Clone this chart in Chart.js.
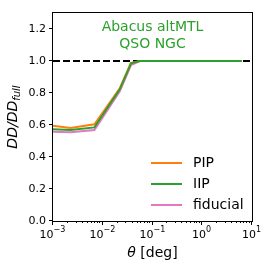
<!DOCTYPE html>
<html lang="en">
<head>
    <meta charset="UTF-8">
    <title>DD/DD_full vs theta</title>
    <script src="https://cdn.jsdelivr.net/npm/chart.js"></script>
    <style>
        body { margin: 0; background: #fff; }
    </style>
</head>
<body>
    <canvas id="ddChart" width="266" height="266"></canvas>

    <script>
        // angular separations (deg) and DD/DD_full ratios
        const theta = [0.001, 0.00224, 0.0068, 0.022, 0.037, 0.056, 0.1, 0.3, 1, 3, 6.2];
        const pip = [0.596, 0.581, 0.604, 0.830, 0.988, 1.0, 1.0, 1.0, 1.0, 1.0, 1.0];
        const iip = [0.573, 0.569, 0.585, 0.823, 0.985, 1.0, 1.0, 1.0, 1.0, 1.0, 1.0];
        const fiducial = [0.558, 0.554, 0.569, 0.810, 0.975, 1.0, 1.0, 1.0, 1.0, 1.0, 1.0];

        const refTheta = [0.001, 10];
        const refLine = [1.0, 1.0];

        const yTicks = [0.0, 0.2, 0.4, 0.6, 0.8, 1.0, 1.2];
        const xExponents = [-3, -2, -1, 0, 1];

        const seriesLabels = ['PIP', 'IIP', 'fiducial'];
        const seriesColors = ['#ff7f0e', '#2ca02c', '#e377c2'];

        function toPoints(xs, ys) {
            return xs.map((x, i) => ({ x: x, y: ys[i] }));
        }

        const FONT = "'DejaVu Sans', sans-serif";

        // axes, ticks, labels, title and legend drawn matplotlib-style
        const decorations = {
            id: 'decorations',
            afterDraw(chart) {
                const ctx = chart.ctx;
                const ca = chart.chartArea;
                const xs = chart.scales.x;
                const ys = chart.scales.y;
                ctx.save();
                ctx.strokeStyle = '#000';
                ctx.fillStyle = '#000';
                ctx.lineWidth = 1;

                // frame
                ctx.strokeRect(ca.left - 0.5, ca.top - 0.5, ca.right - ca.left + 1, ca.bottom - ca.top + 1);

                // y ticks
                ctx.font = '11px ' + FONT;
                ctx.textAlign = 'right';
                ctx.textBaseline = 'middle';
                yTicks.forEach(v => {
                    const py = Math.round(ys.getPixelForValue(v)) - 0.5;
                    ctx.beginPath();
                    ctx.moveTo(ca.left - 4, py);
                    ctx.lineTo(ca.left, py);
                    ctx.stroke();
                    ctx.fillText(v.toFixed(1), ca.left - 7, py + 0.5);
                });

                // x minor ticks
                for (let e = -3; e < 1; e++) {
                    for (let k = 2; k <= 9; k++) {
                        const px = Math.round(xs.getPixelForValue(k * Math.pow(10, e))) - 0.5;
                        ctx.beginPath();
                        ctx.moveTo(px, ca.bottom);
                        ctx.lineTo(px, ca.bottom + 2);
                        ctx.stroke();
                    }
                }

                // x major ticks with 10^n labels
                xExponents.forEach(e => {
                    const px = Math.round(xs.getPixelForValue(Math.pow(10, e))) - 0.5;
                    ctx.beginPath();
                    ctx.moveTo(px, ca.bottom);
                    ctx.lineTo(px, ca.bottom + 4);
                    ctx.stroke();

                    const base = '10';
                    const sup = e < 0 ? '\u2212' + (-e) : String(e);
                    ctx.font = '11px ' + FONT;
                    const wb = ctx.measureText(base).width;
                    ctx.font = '8px ' + FONT;
                    const ws = ctx.measureText(sup).width;
                    const x0 = px - (wb + ws) / 2;
                    ctx.textAlign = 'left';
                    ctx.textBaseline = 'alphabetic';
                    ctx.font = '11px ' + FONT;
                    ctx.fillText(base, x0, ca.bottom + 17);
                    ctx.font = '8px ' + FONT;
                    ctx.fillText(sup, x0 + wb, ca.bottom + 11);
                });

                // x axis title
                ctx.font = 'italic 14px ' + FONT;
                const th = '\u03b8';
                const wth = ctx.measureText(th).width;
                ctx.font = '14px ' + FONT;
                const rest = ' [deg]';
                const wrest = ctx.measureText(rest).width;
                const cx = (ca.left + ca.right) / 2;
                let tx = cx - (wth + wrest) / 2;
                ctx.textBaseline = 'alphabetic';
                ctx.font = 'italic 14px ' + FONT;
                ctx.fillText(th, tx, 257);
                ctx.font = '14px ' + FONT;
                ctx.fillText(rest, tx + wth, 257);

                // y axis title
                ctx.save();
                ctx.translate(17, (ca.top + ca.bottom) / 2);
                ctx.rotate(-Math.PI / 2);
                ctx.font = 'italic 14px ' + FONT;
                const main = 'DD/DD';
                const wm = ctx.measureText(main).width;
                ctx.font = 'italic 10px ' + FONT;
                const sub = 'full';
                const wsub = ctx.measureText(sub).width;
                const yx0 = -(wm + wsub) / 2;
                ctx.textAlign = 'left';
                ctx.font = 'italic 14px ' + FONT;
                ctx.fillText(main, yx0, 0);
                ctx.font = 'italic 10px ' + FONT;
                ctx.fillText(sub, yx0 + wm, 3);
                ctx.restore();

                // in-plot title
                ctx.fillStyle = '#2ca02c';
                ctx.font = '14px ' + FONT;
                ctx.textAlign = 'center';
                ctx.fillText('Abacus altMTL', cx, 31);
                ctx.fillText('QSO NGC', cx, 48);

                // legend
                ctx.textAlign = 'left';
                ctx.textBaseline = 'middle';
                ctx.lineWidth = 2;
                seriesLabels.forEach((lab, i) => {
                    const ly = 163 + 21 * i;
                    ctx.strokeStyle = seriesColors[i];
                    ctx.beginPath();
                    ctx.moveTo(151, ly);
                    ctx.lineTo(182, ly);
                    ctx.stroke();
                    ctx.fillStyle = '#000';
                    ctx.fillText(lab, 193, ly);
                });

                ctx.restore();
            }
        };

        const ctx = document.getElementById('ddChart').getContext('2d');
        const chart = new Chart(ctx, {
            type: 'line',
            data: {
                datasets: [
                    {
                        label: seriesLabels[0],
                        data: toPoints(theta, pip),
                        borderColor: seriesColors[0],
                        borderWidth: 2,
                        pointRadius: 0,
                        order: 1
                    },
                    {
                        label: seriesLabels[1],
                        data: toPoints(theta, iip),
                        borderColor: seriesColors[1],
                        borderWidth: 2,
                        pointRadius: 0,
                        order: 0
                    },
                    {
                        label: seriesLabels[2],
                        data: toPoints(theta, fiducial),
                        borderColor: seriesColors[2],
                        borderWidth: 2,
                        pointRadius: 0,
                        order: 2
                    },
                    {
                        label: 'ref',
                        data: toPoints(refTheta, refLine),
                        borderColor: '#000',
                        borderWidth: 2,
                        borderDash: [7, 3],
                        pointRadius: 0,
                        order: 3
                    }
                ]
            },
            options: {
                responsive: false,
                animation: false,
                layout: {
                    padding: { top: 13, right: 14, left: 0, bottom: 0 }
                },
                scales: {
                    x: {
                        type: 'logarithmic',
                        min: 0.001,
                        max: 10,
                        grid: { display: false, drawTicks: false },
                        border: { display: false },
                        ticks: { display: false },
                        afterFit(scale) { scale.height = 45; }
                    },
                    y: {
                        type: 'linear',
                        min: 0,
                        max: 1.3,
                        grid: { display: false, drawTicks: false },
                        border: { display: false },
                        ticks: { display: false },
                        afterFit(scale) { scale.width = 53; }
                    }
                },
                plugins: {
                    legend: { display: false },
                    tooltip: { enabled: false }
                }
            },
            plugins: [decorations]
        });
    </script>
</body>
</html>
